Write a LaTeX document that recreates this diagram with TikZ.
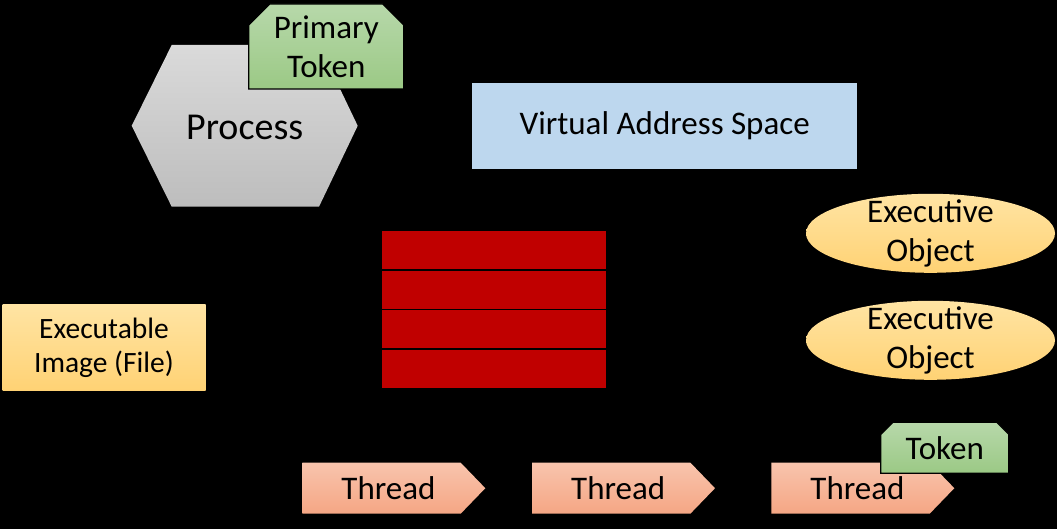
\documentclass[tikz,border=0pt]{standalone}
\usepackage{fontspec}
\setmainfont{Carlito}
\usepackage{xcolor}
\usepackage{tikz}
\usetikzlibrary{positioning,shapes.symbols,shapes.misc,shapes.geometric}

\definecolor{procTop}{HTML}{DADADA}
\definecolor{procBot}{HTML}{BDBDBD}
\definecolor{tokTop}{HTML}{B7D8AA}
\definecolor{tokBot}{HTML}{9BC985}
\definecolor{vasBlue}{HTML}{BDD7EE}
\definecolor{slotRed}{HTML}{C00000}
\definecolor{goldTop}{HTML}{FFE4A3}
\definecolor{goldBot}{HTML}{FFD274}
\definecolor{thrTop}{HTML}{F8C4AD}
\definecolor{thrBot}{HTML}{F5A684}

\begin{document}
\begin{tikzpicture}[x=1pt,y=-1pt,
	% Text chung
	txt/.style={font=\fontsize{33}{39}\selectfont, text=black, align=center, inner sep=0pt},
	% Token (goc tren vat)
	tokbox/.style={txt, chamfered rectangle, chamfered rectangle corners={north west,north east},
		draw=black, line width=1.3pt, top color=tokTop, bottom color=tokBot},
	% O nho mau do
	slot/.style={rectangle, fill=slotRed, minimum width=224, minimum height=38, inner sep=0pt},
	% Doi tuong executive
	objell/.style={txt, ellipse, top color=goldTop, bottom color=goldBot,
		inner ysep=-9pt, minimum width=249, minimum height=79},
	% Thread (mui ten)
	thread/.style={txt, signal, signal to=east, signal pointer angle=92,
		top color=thrTop, bottom color=thrBot, minimum width=183, minimum height=51}
	]
	
	% --- Nen ---
	\fill[black] (0,0) rectangle (1057,529);
	\useasboundingbox (0,0) rectangle (1057,529);
	
	% --- Process ---
	\shade[top color=procTop, bottom color=procBot]
		(131.7,125.8) -- (171.7,45) -- (319,45) -- (357.7,125.8) -- (319,206.7) -- (171.7,206.7) -- cycle;
	\node[txt, font=\fontsize{38}{45}\selectfont] (proc) at (244.7,127) {Process};
	\node[tokbox, minimum width=155, minimum height=85,
		chamfered rectangle xsep=11, chamfered rectangle ysep=10] (ptoken) at (326.3,46.5) {Primary\\Token};
	
	% --- Virtual Address Space ---
	\node[txt, fill=vasBlue, minimum width=385, minimum height=86] (vas) at (664.7,126.2) {Virtual Address Space};
	
	% --- Bang do ---
	\foreach \i in {1,...,4} {
		\node[slot] (slot\i) at (494,{250+(\i-1)*39.6}) {};
	}
	
	% --- Executable Image ---
	\node[txt, font=\fontsize{29.5}{34}\selectfont, top color=goldTop, bottom color=goldBot,
		minimum width=203, minimum height=86] (image) at (104,347.8) {Executable\\Image (File)};
	
	% --- Executive Object ---
	\node[objell] (obj1) at (930.5,233.3) {Executive\\Object};
	\node[objell] (obj2) at (930.5,340.3) {Executive\\Object};
	
	% --- Threads ---
	\node[thread] (thread1) at (381.5,488.2) {\hspace*{14pt}Thread};
	\node[thread] (thread2) at (611.2,488.2) {\hspace*{14pt}Thread};
	\node[thread] (thread3) at (850.5,488.2) {\hspace*{14pt}Thread};
	\node[tokbox, minimum width=128, minimum height=51,
		chamfered rectangle xsep=6, chamfered rectangle ysep=6] (token) at (944.8,447.8) {Token};
	
\end{tikzpicture}
\end{document}
